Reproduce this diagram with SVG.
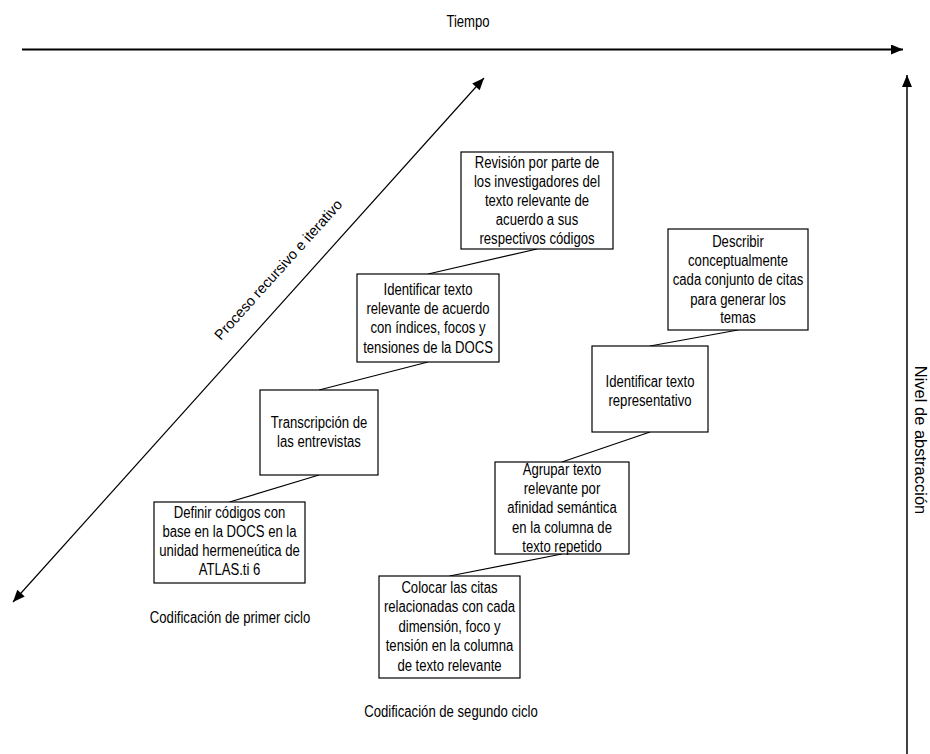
<svg xmlns="http://www.w3.org/2000/svg" width="930" height="754" viewBox="0 0 930 754">
  <defs>
    <style>
      .box { fill: #ffffff; stroke: #000000; stroke-width: 1.2; }
      .link { stroke: #000000; stroke-width: 1.2; fill: none; }
      .axis { stroke: #000000; fill: none; }
      text { font-family: "Liberation Sans", Arial, sans-serif; font-size: 16px; fill: #000000; text-anchor: middle; }
    </style>
    <marker id="head" viewBox="0 0 12 10" refX="12" refY="5" markerWidth="13" markerHeight="10" markerUnits="userSpaceOnUse" orient="auto">
      <path d="M0,0 L12,5 L0,10 Z" fill="#000000"/>
    </marker>
    <marker id="tail" viewBox="0 0 12 10" refX="0" refY="5" markerWidth="13" markerHeight="10" markerUnits="userSpaceOnUse" orient="auto">
      <path d="M12,0 L0,5 L12,10 Z" fill="#000000"/>
    </marker>
  </defs>
  <rect width="930" height="754" fill="#ffffff"/>

  <!-- axes and their labels -->
  <g id="axes">
    <line class="axis" x1="22" y1="49.5" x2="903" y2="49.5" stroke-width="2" marker-end="url(#head)"/>
    <g transform="translate(468,0) scale(0.82,1)"><text x="0" y="27">Tiempo</text></g>
    <line class="axis" x1="907" y1="754" x2="907" y2="75" stroke-width="1.5" marker-end="url(#head)"/>
    <text transform="translate(915,440) rotate(90)" x="0" y="0" style="font-size:16.5px">Nivel de abstracción</text>
    <line class="axis" x1="13" y1="602" x2="484" y2="78" stroke-width="1.2" marker-start="url(#tail)" marker-end="url(#head)"/>
    <text transform="translate(282,273) rotate(-48)" x="0" y="0" style="font-size:14.5px">Proceso recursivo e iterativo</text>
  </g>

  <!-- connectors between steps -->
  <g id="connectors">
    <line class="link" x1="229.5" y1="502" x2="319" y2="475"/>
    <line class="link" x1="319" y1="390" x2="428" y2="362"/>
    <line class="link" x1="428" y1="274" x2="537" y2="249"/>
    <line class="link" x1="449.5" y1="576" x2="562" y2="554"/>
    <line class="link" x1="562" y1="462" x2="650" y2="432"/>
    <line class="link" x1="650" y1="346" x2="738" y2="330"/>
  </g>

  <!-- first-cycle coding (box text narrowed horizontally) -->
  <g id="definir">
    <rect class="box" x="154" y="502" width="151" height="81"/>
    <g transform="translate(229.5,0) scale(0.82,1)">
      <text x="0" y="518">Definir códigos con</text>
      <text x="0" y="537">base en la DOCS en la</text>
      <text x="0" y="556">unidad hermeneútica de</text>
      <text x="0" y="575">ATLAS.ti 6</text>
    </g>
  </g>
  <g id="transcripcion">
    <rect class="box" x="260" y="390" width="118" height="85"/>
    <g transform="translate(319,0) scale(0.82,1)">
      <text x="0" y="428">Transcripción de</text>
      <text x="0" y="447">las entrevistas</text>
    </g>
  </g>
  <g id="identificar-relevante">
    <rect class="box" x="357" y="274" width="142" height="88"/>
    <g transform="translate(428,0) scale(0.82,1)">
      <text x="0" y="295">Identificar texto</text>
      <text x="0" y="314">relevante de acuerdo</text>
      <text x="0" y="333.5">con índices, focos y</text>
      <text x="0" y="353">tensiones de la DOCS</text>
    </g>
  </g>
  <g id="revision">
    <rect class="box" x="461" y="152" width="152" height="97"/>
    <g transform="translate(537,0) scale(0.82,1)">
      <text x="0" y="168">Revisión por parte de</text>
      <text x="0" y="187">los investigadores del</text>
      <text x="0" y="206.5">texto relevante de</text>
      <text x="0" y="225.5">acuerdo a sus</text>
      <text x="0" y="244.5">respectivos códigos</text>
    </g>
  </g>
  <g id="label-primer" transform="translate(230,0) scale(0.82,1)">
    <text x="0" y="623">Codificación de primer ciclo</text>
  </g>

  <!-- second-cycle coding -->
  <g id="colocar">
    <rect class="box" x="379" y="576" width="141" height="102"/>
    <g transform="translate(449.5,0) scale(0.82,1)">
      <text x="0" y="593">Colocar las citas</text>
      <text x="0" y="612.5">relacionadas con cada</text>
      <text x="0" y="632">dimensión, foco y</text>
      <text x="0" y="651.5">tensión en la columna</text>
      <text x="0" y="671">de texto relevante</text>
    </g>
  </g>
  <g id="agrupar">
    <rect class="box" x="495" y="462" width="134" height="92"/>
    <g transform="translate(562,0) scale(0.82,1)">
      <text x="0" y="475">Agrupar texto</text>
      <text x="0" y="494">relevante por</text>
      <text x="0" y="513.5">afinidad semántica</text>
      <text x="0" y="533">en la columna de</text>
      <text x="0" y="552">texto repetido</text>
    </g>
  </g>
  <g id="identificar-representativo">
    <rect class="box" x="592" y="346" width="116" height="86"/>
    <g transform="translate(650,0) scale(0.82,1)">
      <text x="0" y="387">Identificar texto</text>
      <text x="0" y="406">representativo</text>
    </g>
  </g>
  <g id="describir">
    <rect class="box" x="668" y="229" width="140" height="101"/>
    <g transform="translate(738,0) scale(0.82,1)">
      <text x="0" y="247">Describir</text>
      <text x="0" y="266">conceptualmente</text>
      <text x="0" y="285.5">cada conjunto de citas</text>
      <text x="0" y="305">para generar los</text>
      <text x="0" y="323.5">temas</text>
    </g>
  </g>
  <g id="label-segundo" transform="translate(451,0) scale(0.82,1)">
    <text x="0" y="717">Codificación de segundo ciclo</text>
  </g>
</svg>
